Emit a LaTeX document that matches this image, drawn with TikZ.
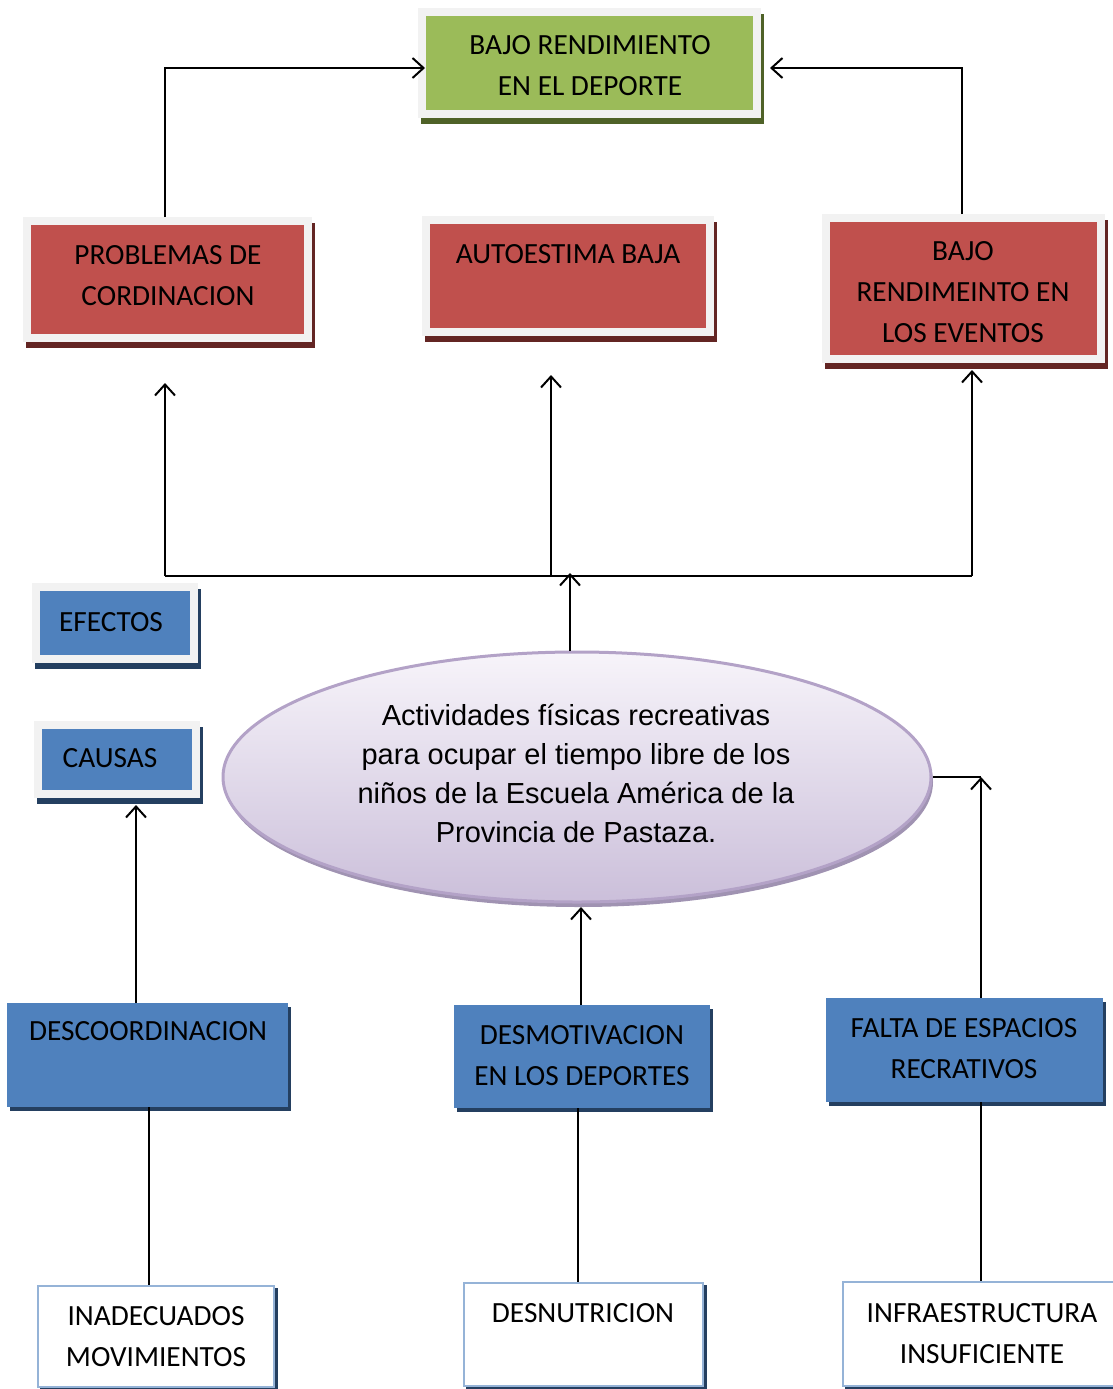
\documentclass[tikz,border=0pt]{standalone}
\usepackage{fontspec}
\setmainfont{Carlito}
\newfontfamily\corefont{Liberation Sans}
\usetikzlibrary{arrows.meta,shapes.geometric}

\definecolor{goalgreen}{HTML}{9BBB59}
\definecolor{goalshadow}{HTML}{4F6228}
\definecolor{effred}{HTML}{C0504D}
\definecolor{effshadow}{HTML}{632523}
\definecolor{causeblue}{HTML}{4F81BD}
\definecolor{causeshadow}{HTML}{243F60}
\definecolor{framegray}{HTML}{F2F2F2}
\definecolor{rootborder}{HTML}{95B3D7}
\definecolor{coretop}{HTML}{F7F4FA}
\definecolor{corebot}{HTML}{CBBFDA}
\definecolor{coreborder}{HTML}{B3A2C7}
\definecolor{coreshadow}{HTML}{A093B2}

\tikzset{
  framedbox/.style 2 args={rectangle, inner sep=0pt, fill=#1, draw=framegray, line width=8pt,
    preaction={fill=#2, draw=#2, line width=8pt, transform canvas={shift={(3pt,-6pt)}}}},
  goalbox/.style={framedbox={goalgreen}{goalshadow}},
  effbox/.style={framedbox={effred}{effshadow}},
  tagbox/.style={framedbox={causeblue}{causeshadow}},
  causebox/.style={rectangle, inner sep=0pt, fill=causeblue,
    preaction={fill=causeshadow, transform canvas={shift={(3pt,-4pt)}}}},
  rootbox/.style={rectangle, inner sep=0pt, fill=white, draw=rootborder, line width=2.5pt,
    preaction={fill=causeshadow, draw=causeshadow, line width=2.5pt, transform canvas={shift={(3pt,-3pt)}}}},
  corebox/.style={ellipse, inner sep=0pt, draw=coreborder, line width=3pt,
    top color=coretop, bottom color=corebot, minimum width=708pt, minimum height=250pt,
    preaction={fill=coreshadow, transform canvas={shift={(2pt,-5pt)}}}},
  lbl/.style={font=\fontsize{29.3}{41}\selectfont, align=center, inner sep=0pt},
  corelbl/.style={font=\corefont\fontsize{29}{39}\selectfont, align=center, inner sep=0pt},
  conn/.style={line width=2pt},
  arr/.style={line width=2pt, -{Straight Barb[length=11pt,width=20pt]}},
}

\begin{document}
\begin{tikzpicture}[x=1pt,y=-1pt]
\useasboundingbox (0,0) rectangle (1113,1389);

% main effect
\node[goalbox, minimum width=335pt, minimum height=102pt] (goal) at (589.5,63) {};
\node[lbl] (goalT) at (590,66) {BAJO RENDIMIENTO\\EN EL DEPORTE};

% effects
\node[effbox, minimum width=281pt, minimum height=117pt] (prob) at (167.5,279.5) {};
\node[lbl] (probT) at (168,275.5) {PROBLEMAS DE\\CORDINACION};
\node[effbox, minimum width=284pt, minimum height=112pt] (auto) at (568,276) {};
\node[lbl] (autoT) at (568,254) {AUTOESTIMA BAJA};
\node[effbox, minimum width=275pt, minimum height=141pt] (rend) at (963.5,288.5) {};
\node[lbl] (rendT) at (963,292) {BAJO\\RENDIMEINTO EN\\LOS EVENTOS};

% side tags
\node[tagbox, minimum width=158pt, minimum height=72pt] (efec) at (115,623) {};
\node[lbl] (efecT) at (111,622) {EFECTOS};
\node[tagbox, minimum width=158pt, minimum height=69pt] (causa) at (117,759.5) {};
\node[lbl] (causaT) at (110,758) {CAUSAS};

% central problem
\node[corebox] (core) at (577,777) {};
\node[corelbl] (coreT) at (576,773.5) {Actividades físicas recreativas\\para ocupar el tiempo libre de los\\niños de la Escuela América de la\\Provincia de Pastaza.};

% causes
\node[causebox, minimum width=281pt, minimum height=104pt] (desco) at (147.5,1055) {};
\node[lbl] (descoT) at (148,1031) {DESCOORDINACION};
\node[causebox, minimum width=256pt, minimum height=103pt] (desmo) at (582,1056.5) {};
\node[lbl] (desmoT) at (582,1055.5) {DESMOTIVACION\\EN LOS DEPORTES};
\node[causebox, minimum width=277pt, minimum height=104pt] (falta) at (964.5,1050) {};
\node[lbl] (faltaT) at (964,1048.5) {FALTA DE ESPACIOS\\RECRATIVOS};

% root causes
\node[rootbox, minimum width=236pt, minimum height=101pt] (inad) at (156,1336.5) {};
\node[lbl] (inadT) at (156,1336.5) {INADECUADOS\\MOVIMIENTOS};
\node[rootbox, minimum width=239pt, minimum height=103pt] (desnu) at (583.5,1334.5) {};
\node[lbl] (desnuT) at (583,1313) {DESNUTRICION};
\node[rootbox, minimum width=277pt, minimum height=104pt] (infra) at (981.5,1334) {};
\node[lbl] (infraT) at (982,1333.5) {INFRAESTRUCTURA\\INSUFICIENTE};

% connector junctions and free arrow ends
\coordinate (hubL) at (165,576);
\coordinate (hubM) at (551,576);
\coordinate (hubR) at (972,576);
\coordinate (hubTip) at (570,573);
\coordinate (probTip) at (165,383);
\coordinate (autoTip) at (551,375);
\coordinate (rendTip) at (972,370);
\coordinate (rendTop) at (962,0);
\coordinate (goalInL) at (425,68);
\coordinate (goalInR) at (770,68);
\coordinate (causaTip) at (136,805);
\coordinate (desmoTip) at (581,907);
\coordinate (faltaTip) at (981,777);
\coordinate (leftDrop) at (149,0);
\coordinate (midDrop) at (578,0);

% effects to the main effect
\draw[arr] (prob.north -| probTip) |- (goalInL);
\draw[arr] (rend.north -| rendTop) |- (goalInR);

% central problem to the effects
\draw[conn] (hubL) -- (hubR);
\draw[arr] (hubL) -- (probTip);
\draw[arr] (hubM) -- (autoTip);
\draw[arr] (hubR) -- (rendTip);
\draw[arr] (core.north -| hubTip) -- (hubTip);

% causes to the central problem
\draw[arr] (desco.north -| causaTip) -- (causaTip);
\draw[arr] (desmo.north -| desmoTip) -- (desmoTip);
\draw[arr] (falta.north -| faltaTip) -- (faltaTip);
\draw[conn] (core.east) -- (faltaTip);

% root causes to the causes
\draw[conn] (desco.south -| leftDrop) -- (inad.north -| leftDrop);
\draw[conn] (desmo.south -| midDrop) -- (desnu.north -| midDrop);
\draw[conn] (falta.south -| faltaTip) -- (infra.north -| faltaTip);
\end{tikzpicture}
\end{document}
